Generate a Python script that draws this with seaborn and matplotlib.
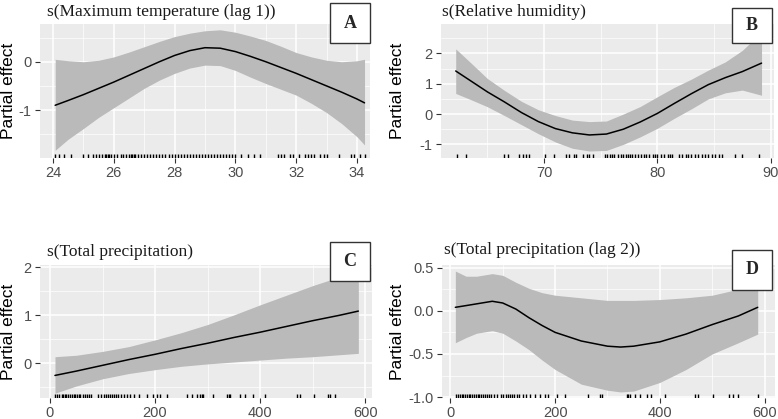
import numpy as np
import pandas as pd
import matplotlib
matplotlib.use("Agg")
import matplotlib.pyplot as plt
import matplotlib.patches as mpatches
import seaborn as sns

# ---------------- data ----------------
# Panel A: s(Maximum temperature (lag 1))
a_x = [24.07, 24.5, 25, 25.5, 26, 26.5, 27, 27.5, 28, 28.5, 29, 29.5, 30, 30.5, 31, 31.5, 32, 32.5, 33, 33.5, 34, 34.25]
a_fit = [-0.90, -0.80, -0.68, -0.55, -0.42, -0.28, -0.14, 0.0, 0.13, 0.23, 0.29, 0.28, 0.21, 0.11, 0.0, -0.12, -0.24, -0.37, -0.50, -0.63, -0.77, -0.85]
a_hi = [0.05, 0.02, 0.0, 0.03, 0.10, 0.20, 0.31, 0.42, 0.52, 0.59, 0.64, 0.66, 0.61, 0.53, 0.44, 0.32, 0.19, 0.10, 0.03, 0.0, 0.02, 0.05]
a_lo = [-1.83, -1.60, -1.38, -1.15, -0.95, -0.75, -0.55, -0.38, -0.24, -0.13, -0.07, -0.08, -0.18, -0.32, -0.45, -0.57, -0.69, -0.86, -1.05, -1.28, -1.55, -1.72]
a_rug = [24.05, 24.2, 24.35, 24.6, 25.0, 25.15, 25.3, 25.4, 25.5, 25.6, 25.7, 25.75, 25.8, 25.85,
         25.9, 26.0, 26.1, 26.25, 26.3, 26.4, 26.5, 26.55, 26.6, 26.65, 26.7, 26.8, 26.9, 27.0,
         27.1, 27.2, 27.3, 27.4, 27.5, 27.6, 27.7, 27.8, 27.9, 28.0, 28.1, 28.2, 28.3, 28.4,
         28.5, 28.6, 28.7, 28.8, 28.9, 29.0, 29.1, 29.2, 29.3, 29.4, 29.5, 29.6, 29.7, 29.8,
         29.9, 30.0, 30.2, 30.4, 30.6, 30.8, 31.4, 31.5, 31.6, 31.8, 31.9, 32.1, 32.3, 32.4,
         32.5, 32.6, 32.8, 32.9, 33.0, 33.4, 33.8, 33.9, 34.1, 34.25]

# Panel B: s(Relative humidity)
b_x = [62.2, 63.5, 65, 66.5, 68, 69.5, 71, 72.5, 74, 75.5, 77, 78.5, 80, 81.5, 83, 84.5, 86, 87.5, 89.2]
b_fit = [1.42, 1.10, 0.73, 0.40, 0.05, -0.25, -0.48, -0.62, -0.69, -0.66, -0.50, -0.26, 0.02, 0.35, 0.67, 0.97, 1.20, 1.40, 1.68]
b_hi = [2.15, 1.70, 1.17, 0.78, 0.42, 0.14, -0.05, -0.20, -0.25, -0.23, 0.0, 0.25, 0.57, 0.88, 1.15, 1.45, 1.72, 2.10, 2.70]
b_lo = [0.68, 0.48, 0.24, -0.05, -0.35, -0.65, -0.92, -1.13, -1.22, -1.20, -1.00, -0.75, -0.47, -0.14, 0.17, 0.50, 0.70, 0.79, 0.62]
b_rug = [62.35, 63.1, 66.5, 66.8, 67.8, 68.1, 68.4, 68.7, 70.1, 70.9, 71.9, 72.2, 72.6, 72.8,
         73.4, 73.8, 74.0, 74.3, 75.4, 75.6, 75.8, 76.0, 76.2, 76.5, 76.8, 77.0, 77.2, 77.4,
         77.6, 77.8, 78.0, 78.3, 78.6, 78.8, 79.0, 79.3, 79.6, 79.8, 80.0, 80.3, 80.6, 80.9,
         81.1, 81.3, 81.9, 82.2, 82.5, 82.7, 83.0, 83.3, 83.6, 83.9, 84.2, 84.5, 84.8, 85.1,
         85.4, 85.7, 86.9, 87.5, 89.0]

# Panel C: s(Total precipitation)
c_x = [9.5, 50, 100, 150, 200, 250, 300, 350, 400, 450, 500, 550, 587]
c_fit = [-0.25, -0.16, -0.04, 0.08, 0.19, 0.31, 0.42, 0.54, 0.65, 0.77, 0.89, 1.00, 1.09]
c_hi = [0.14, 0.17, 0.25, 0.35, 0.49, 0.64, 0.81, 1.01, 1.22, 1.42, 1.62, 1.80, 1.95]
c_lo = [-0.62, -0.47, -0.32, -0.21, -0.13, -0.06, -0.01, 0.03, 0.07, 0.11, 0.14, 0.18, 0.21]
c_rug = [10, 14, 18, 22, 25, 28, 31, 35, 38, 42, 45, 48, 52, 55, 58, 62, 66, 70, 74, 78,
         92, 97, 102, 106, 110, 114, 118, 122, 126, 130, 135, 140, 146, 152, 160, 170,
         184, 197, 203, 210, 222, 260, 270, 279, 286, 289, 292, 311, 337, 340, 343, 362,
         371, 387, 410, 470, 476, 502, 530, 533, 543]

# Panel D: s(Total precipitation (lag 2))
d_x = [9.5, 30, 50, 80, 100, 125, 150, 175, 200, 250, 300, 325, 350, 400, 450, 500, 550, 587]
d_fit = [0.04, 0.06, 0.08, 0.11, 0.09, 0.02, -0.08, -0.17, -0.25, -0.35, -0.41, -0.42, -0.41, -0.36, -0.27, -0.16, -0.06, 0.04]
d_hi = [0.46, 0.40, 0.40, 0.43, 0.41, 0.33, 0.26, 0.21, 0.18, 0.15, 0.12, 0.12, 0.12, 0.13, 0.15, 0.18, 0.25, 0.34]
d_lo = [-0.37, -0.31, -0.26, -0.23, -0.26, -0.35, -0.45, -0.57, -0.68, -0.85, -0.92, -0.94, -0.93, -0.83, -0.68, -0.50, -0.37, -0.27]
d_rug = [10, 14, 18, 22, 25, 28, 31, 35, 38, 42, 45, 48, 52, 55, 58, 62, 66, 70, 74, 78,
         84, 90, 96, 101, 106, 110, 114, 118, 122, 127, 132, 138, 145, 152, 162,
         171, 181, 187, 203, 219, 263, 286, 289, 337, 340, 343, 352, 362, 375, 384, 410,
         467, 473, 502, 533, 540, 549, 587]

titles = ["s(Maximum temperature (lag 1))", "s(Relative humidity)",
          "s(Total precipitation)", "s(Total precipitation (lag 2))"]
letters = ["A", "B", "C", "D"]

# ---------------- style ----------------
sns.set_theme(style="darkgrid")
plt.rcParams['font.family'] = ['Liberation Sans', 'DejaVu Sans']

W, H = 778, 419
fig = plt.figure(figsize=(W / 100, H / 100), dpi=100)
fig.patch.set_facecolor("white")

def fx(px):
    return px / W

def fy(py):
    return 1 - py / H

panels = [
    dict(x=a_x, fit=a_fit, hi=a_hi, lo=a_lo, rug=a_rug,
         box=(40, 24, 370, 158), xlim=(23.57, 34.43), ylim=(-1.99, 0.78),
         xmaj=[24, 26, 28, 30, 32, 34], xmin=[25, 27, 29, 31, 33],
         ymaj=[-1, 0], ymin=[-1.5, -0.5, 0.5], yfmt="{:g}",
         title_xy=(47, 12), lbox=(330, 3, 370, 43), ylab_x=9),
    dict(x=b_x, fit=b_fit, hi=b_hi, lo=b_lo, rug=b_rug,
         box=(441, 24, 774, 158), xlim=(60.9, 90.3), ylim=(-1.45, 2.97),
         xmaj=[70, 80, 90], xmin=[65, 75, 85],
         ymaj=[-1, 0, 1, 2], ymin=[-0.5, 0.5, 1.5, 2.5], yfmt="{:g}",
         title_xy=(442, 12), lbox=(732, 8, 772, 43), ylab_x=398),
    dict(x=c_x, fit=c_fit, hi=c_hi, lo=c_lo, rug=c_rug,
         box=(40, 265, 372, 398), xlim=(-19, 613), ylim=(-0.72, 2.05),
         xmaj=[0, 200, 400, 600], xmin=[100, 300, 500],
         ymaj=[0, 1, 2], ymin=[-0.5, 0.5, 1.5], yfmt="{:g}",
         title_xy=(47, 252), lbox=(330, 242, 370, 281), ylab_x=9),
    dict(x=d_x, fit=d_fit, hi=d_hi, lo=d_lo, rug=d_rug,
         box=(442, 265, 775, 398), xlim=(-16, 620), ylim=(-1.01, 0.53),
         xmaj=[0, 200, 400, 600], xmin=[100, 300, 500],
         ymaj=[-1.0, -0.5, 0.0, 0.5], ymin=[-0.75, -0.25, 0.25], yfmt="{:.1f}",
         title_xy=(444, 250), lbox=(732, 250, 772, 290), ylab_x=398),
]

for i, p in enumerate(panels):
    l, t, r, b = p["box"]
    ax = fig.add_axes([fx(l), fy(b), fx(r - l), (b - t) / H])
    ax.set_facecolor("#EBEBEB")
    ax.fill_between(p["x"], p["lo"], p["hi"], color="#BABABA", lw=0, zorder=2)
    df = pd.DataFrame({"x": p["x"], "y": p["fit"]})
    sns.lineplot(data=df, x="x", y="y", ax=ax, color="black", lw=1.1, zorder=3)
    sns.rugplot(x=p["rug"], ax=ax, height=0.03, color="black", lw=0.8, zorder=4)
    ax.set_xlim(*p["xlim"])
    ax.set_ylim(*p["ylim"])
    ax.set_xticks(p["xmaj"])
    ax.set_xticks(p["xmin"], minor=True)
    ax.set_yticks(p["ymaj"])
    ax.set_yticks(p["ymin"], minor=True)
    ax.set_yticklabels([p["yfmt"].format(v) for v in p["ymaj"]])
    ax.grid(which="major", color="white", lw=1.1, zorder=1)
    ax.grid(which="minor", color="white", lw=0.5, zorder=1)
    ax.set_axisbelow(True)
    for s in ax.spines.values():
        s.set_visible(False)
    ax.tick_params(which="major", length=3.5, width=0.8, color="#333333",
                   labelsize=10.5, labelcolor="#4D4D4D", pad=2.5,
                   bottom=True, left=True)
    ax.tick_params(which="minor", length=0, bottom=False, left=False)
    ax.set_xlabel("")
    ax.set_ylabel("")
    # y label
    fig.text(fx(p["ylab_x"]), fy((t + b) / 2), "Partial effect", rotation=90,
             ha="center", va="center", fontsize=12.5, color="black")
    # title
    fig.text(fx(p["title_xy"][0]), fy(p["title_xy"][1]), titles[i],
             ha="left", va="center", fontsize=12.5, family="Liberation Serif",
             color="#1a1a1a")
    # letter box
    bl, bt, br, bb = p["lbox"]
    rect = mpatches.Rectangle((fx(bl), fy(bb)), fx(br - bl), (bb - bt) / H,
                              transform=fig.transFigure, facecolor="white",
                              edgecolor="#333333", lw=1.0, zorder=10)
    fig.patches.append(rect)
    fig.text(fx((bl + br) / 2), fy((bt + bb) / 2), letters[i], ha="center",
             va="center", fontsize=13, fontweight="bold",
             family="Liberation Serif", zorder=11)

fig.savefig("out.png", dpi=100, facecolor="white")
